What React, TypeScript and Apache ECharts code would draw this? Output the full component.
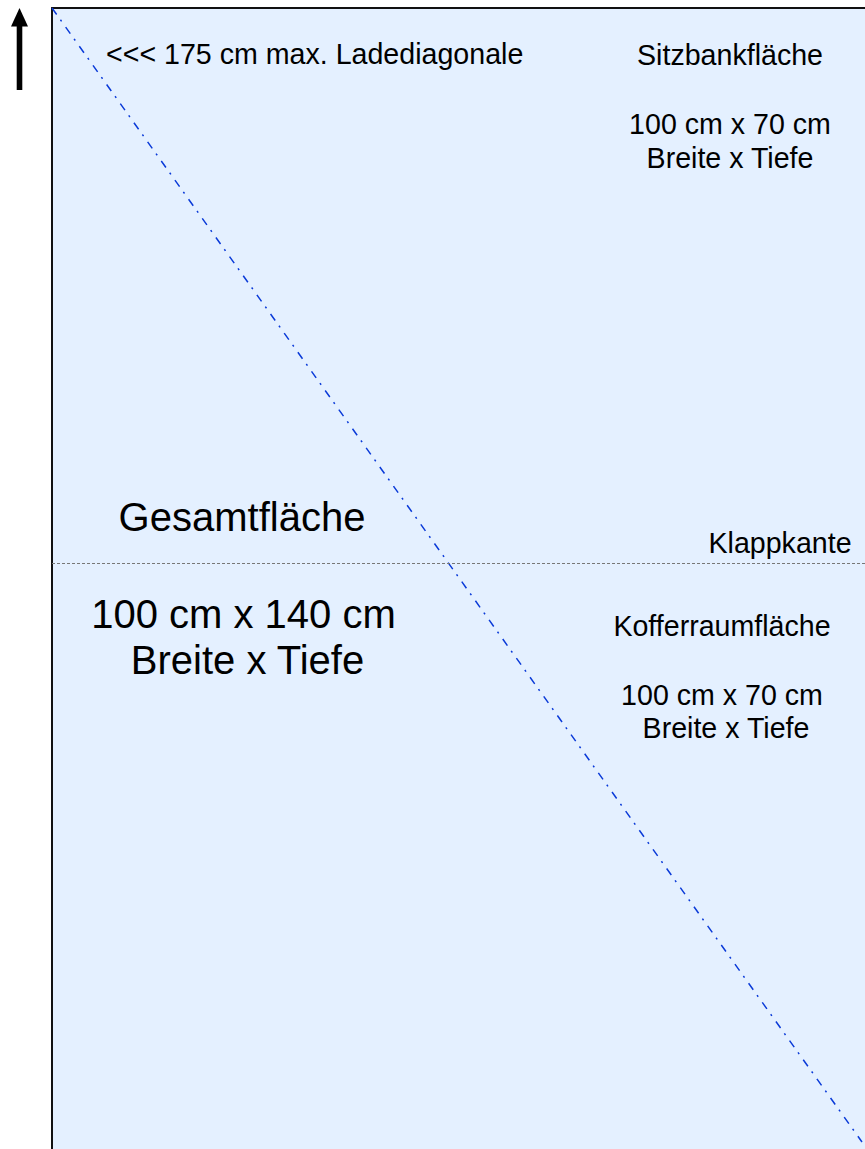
import React, { useEffect, useRef } from "react";
import * as echarts from "echarts";

// Area dimensions (cm)
const widthCm = 100;
const depthCm = 140;
const klappkante = 68.6; // fold edge position from top (cm)
const diagonal: number[][] = [
  [0, 0],
  [widthCm, depthCm],
];

const diagonalLabel = "<<< 175 cm max. Ladediagonale";
const seatLabels = ["Sitzbankfläche", "100 cm x 70 cm", "Breite x Tiefe"];
const totalLabels = ["Gesamtfläche", "100 cm x 140 cm", "Breite x Tiefe"];
const trunkLabels = ["Kofferraumfläche", "100 cm x 70 cm", "Breite x Tiefe"];
const foldLabel = "Klappkante";

const FONT = "'Liberation Sans', Arial, sans-serif";
const SMALL = 28.6;
const BIG = 40;

function txt(text: string, x: number, y: number, size: number, align = "center") {
  return {
    type: "text",
    x,
    y,
    silent: true,
    z: 10,
    style: {
      text,
      fill: "#000",
      fontSize: size,
      fontFamily: FONT,
      textAlign: align,
      textVerticalAlign: "middle",
      align,
      verticalAlign: "middle",
    },
  };
}

export default function App() {
  const ref = useRef<HTMLDivElement>(null);
  useEffect(() => {
    if (!ref.current) return;
    const chart = echarts.init(ref.current, undefined, { renderer: "svg" });
    chart.setOption({
      animation: false,
      grid: {
        left: 52,
        top: 8,
        right: 0,
        bottom: 0,
        show: true,
        backgroundColor: "#e4f0ff",
        borderWidth: 0,
      },
      xAxis: {
        type: "value",
        min: 0,
        max: 100.37,
        position: "top",
        axisLine: { show: true, lineStyle: { color: "#111", width: 2 } },
        axisTick: { show: false },
        axisLabel: { show: false },
        splitLine: { show: false },
      },
      yAxis: {
        type: "value",
        min: 0,
        max: 140.86,
        inverse: true,
        axisLine: { show: true, lineStyle: { color: "#111", width: 2 } },
        axisTick: { show: false },
        axisLabel: { show: false },
        splitLine: { show: false },
      },
      series: [
        {
          type: "line",
          data: diagonal,
          symbol: "none",
          lineStyle: { color: "#0a3ad8", width: 1.5, type: [8, 6.5, 2, 7] },
          silent: true,
          markLine: {
            silent: true,
            symbol: "none",
            label: { show: false },
            lineStyle: { color: "#777", width: 1, type: [3, 2] },
            data: [{ yAxis: klappkante }],
          },
        },
      ],
      graphic: [
        {
          type: "rect",
          shape: { x: 16.7, y: 24, width: 5.6, height: 66 },
          style: { fill: "#000" },
        },
        {
          type: "polygon",
          shape: { points: [[19.5, 8], [11, 26.5], [28, 26.5]] },
          style: { fill: "#000" },
        },
        txt(diagonalLabel, 106, 54, SMALL, "left"),
        txt(seatLabels[0], 730, 54.5, SMALL),
        txt(seatLabels[1], 730, 124, SMALL),
        txt(seatLabels[2], 730, 158, SMALL),
        txt(totalLabels[0], 242, 517, BIG),
        txt(totalLabels[1], 243.5, 613.5, BIG),
        txt(totalLabels[2], 247.5, 660, BIG),
        txt(foldLabel, 780, 543, SMALL),
        txt(trunkLabels[0], 722, 626, SMALL),
        txt(trunkLabels[1], 722, 694.5, SMALL),
        txt(trunkLabels[2], 726, 727.5, SMALL),
      ],
    });
    return () => chart.dispose();
  }, []);
  return (
    <div
      ref={ref}
      style={{ position: "absolute", left: 0, top: 0, width: 865, height: 1149 }}
    />
  );
}
